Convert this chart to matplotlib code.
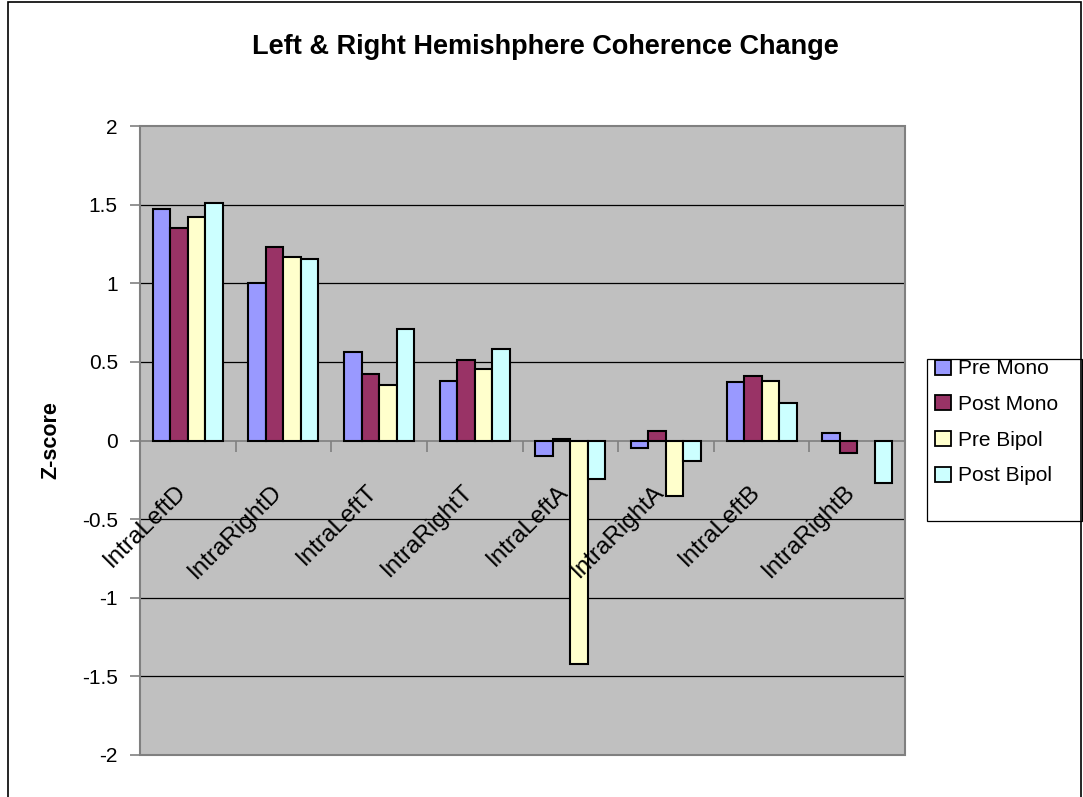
import matplotlib
matplotlib.use("Agg")
import matplotlib.pyplot as plt
import numpy as np
from matplotlib.patches import Rectangle

plt.rcParams['font.family'] = ['Liberation Sans', 'DejaVu Sans']

categories = ['IntraLeftD', 'IntraRightD', 'IntraLeftT', 'IntraRightT',
              'IntraLeftA', 'IntraRightA', 'IntraLeftB', 'IntraRightB']
pre_mono = [1.47, 1.00, 0.56, 0.38, -0.10, -0.05, 0.37, 0.05]
post_mono = [1.35, 1.23, 0.42, 0.51, 0.01, 0.06, 0.41, -0.08]
pre_bipol = [1.42, 1.17, 0.355, 0.455, -1.42, -0.35, 0.38, np.nan]
post_bipol = [1.51, 1.155, 0.71, 0.58, -0.245, -0.13, 0.24, -0.27]

series = [('Pre Mono', pre_mono, '#9999FF'),
          ('Post Mono', post_mono, '#993366'),
          ('Pre Bipol', pre_bipol, '#FFFFCC'),
          ('Post Bipol', post_bipol, '#CCFFFF')]

fig = plt.figure(figsize=(10.83, 7.97), dpi=100)
ax = fig.add_axes([140/1083, 1-755/797, 765/1083, 629/797])
ax.set_facecolor('#C0C0C0')

x = np.arange(len(categories))
w = 0.183
for k, (name, vals, col) in enumerate(series):
    ax.bar(x + (k - 1.5)*w, vals, w, color=col, edgecolor='black',
           linewidth=1.5, label=name, zorder=3)

ax.set_xlim(-0.5, len(categories) - 0.5)
ax.set_ylim(-2, 2)

# gridlines
for g in np.arange(-1.5, 2.0, 0.5):
    if g != 0:
        ax.axhline(g, color='black', lw=0.9, zorder=1)

# spines: left + category axis at zero
for s in ['top', 'right']:
    ax.spines[s].set_visible(False)
ax.spines['bottom'].set_position(('data', 0))
ax.spines['bottom'].set_color('#808080')
ax.spines['bottom'].set_linewidth(1.2)
ax.spines['bottom'].set_zorder(2)
ax.spines['left'].set_color('#808080')
ax.spines['left'].set_linewidth(1.2)
ax.add_patch(Rectangle((0, 0), 1, 1, transform=ax.transAxes, fill=False,
                       ec='#808080', lw=1.5, zorder=4, clip_on=False))

yt = np.arange(-2, 2.01, 0.5)
ax.set_yticks(yt)
ax.set_yticklabels(['%g' % v for v in yt])
ax.tick_params(axis='y', direction='out', length=7, width=1.2,
               color='#808080', labelsize=15, pad=9)

ax.set_xticks(np.arange(-0.5, len(categories), 1.0))
ax.set_xticklabels([])
ax.tick_params(axis='x', direction='out', length=8, width=1.2, color='#808080')

for i, cat in enumerate(categories):
    ax.text(i - 0.01, -0.334, cat, rotation=45, ha='right', va='baseline',
            rotation_mode='anchor', fontsize=17.5, zorder=5)

ax.set_ylabel('Z-score', fontsize=15.5, fontweight='bold')
ax.yaxis.set_label_coords(-0.103, 0.5)

fig.text(545/1083, 1 - 54/797, 'Left & Right Hemishphere Coherence Change',
         ha='center', va='baseline', fontsize=19.5, fontweight='bold')

leg = fig.legend(loc='upper left', bbox_to_anchor=(927/1083, 1-359/797, 155/1083, 0.01),
                 mode='expand', fontsize=15, frameon=False,
                 handlelength=0.75, handleheight=0.72, handletextpad=0.35,
                 labelspacing=0.8, borderpad=0.4, borderaxespad=0)
for h in leg.legend_handles:
    h.set_linewidth(1.3)

# legend frame
fig.patches.append(Rectangle((927/1083, 1-521/797), 155/1083, 162/797,
                             transform=fig.transFigure, fill=False,
                             ec='black', lw=0.9))

# outer chart border
fig.patches.append(Rectangle((8/1083, -0.05), 1073/1083, 1.05 - 1.5/797,
                             transform=fig.transFigure, fill=False,
                             ec='black', lw=1.2))

fig.savefig('out.png', dpi=100)
